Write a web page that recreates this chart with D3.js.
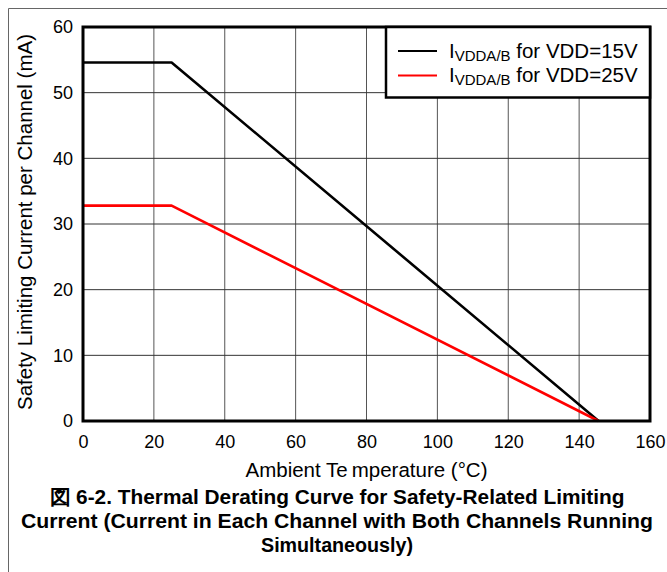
<!DOCTYPE html>
<html>
<head>
<meta charset="utf-8">
<script src="https://cdn.jsdelivr.net/npm/d3@7"></script>
<style>
  body { margin: 0; background: #fff; }
  text { font-family: Arial, "Liberation Sans", sans-serif; }
</style>
</head>
<body>
<script>
  //==DATA==//
  const temps = [0, 25, 145.5];
  const vdd15 = [54.6, 54.6, 0];
  const vdd25 = [32.8, 32.8, 0];
  const xTicks = [0, 20, 40, 60, 80, 100, 120, 140, 160];
  const yTicks = [0, 10, 20, 30, 40, 50, 60];
  const seriesNames = ["15V", "25V"];
  const seriesColours = ["#000000", "#ff0000"];
  const captionLines = [
    "図 6-2. Thermal Derating Curve for Safety-Related Limiting",
    "Current (Current in Each Channel with Both Channels Running",
    "Simultaneously)"
  ];

  //=SVG AREA=//
  const width = 667;
  const height = 572;
  const plot = {left: 83, right: 650, top: 27, bottom: 421};

  const svg = d3.select("body")
  .append("svg")
  .attr("width", width)
  .attr("height", height);

  //outer frame (left and top only)
  svg.append("path")
  .attr("d", "M8.5," + height + "V8.5H" + width)
  .attr("fill", "none")
  .attr("stroke", "#666")
  .attr("stroke-width", 1);

  const x = d3.scaleLinear().domain([0, 160]).range([plot.left, plot.right]);
  const y = d3.scaleLinear().domain([0, 60]).range([plot.bottom, plot.top]);

  //grid
  svg.append("g")
  .selectAll("line")
  .data(xTicks)
  .enter()
  .append("line")
  .attr("x1", d => x(d)).attr("x2", d => x(d))
  .attr("y1", plot.top).attr("y2", plot.bottom)
  .attr("stroke", "#555")
  .attr("stroke-width", 1);

  svg.append("g")
  .selectAll("line")
  .data(yTicks)
  .enter()
  .append("line")
  .attr("x1", plot.left).attr("x2", plot.right)
  .attr("y1", d => y(d)).attr("y2", d => y(d))
  .attr("stroke", "#333")
  .attr("stroke-width", 1);

  //axes, labels only
  const xAxis = d3.axisBottom(x).tickValues(xTicks).tickSize(0).tickPadding(14);
  const gx = svg.append("g")
  .attr("transform", "translate(0," + plot.bottom + ")")
  .call(xAxis);
  gx.select(".domain").remove();
  gx.selectAll("text").attr("font-size", 18).attr("fill", "#000")
  .style("font-family", "Arial, 'Liberation Sans', sans-serif");

  const yAxis = d3.axisLeft(y).tickValues(yTicks).tickSize(0).tickPadding(10);
  const gy = svg.append("g")
  .attr("transform", "translate(" + plot.left + ",0)")
  .call(yAxis);
  gy.select(".domain").remove();
  gy.selectAll("text").attr("font-size", 18).attr("fill", "#000")
  .style("font-family", "Arial, 'Liberation Sans', sans-serif");

  //curves
  const line = d3.line()
  .x(d => x(d[0]))
  .y(d => y(d[1]));

  [vdd15, vdd25].forEach(function(vals, i) {
    svg.append("path")
    .datum(temps.map((t, j) => [t, vals[j]]))
    .attr("fill", "none")
    .attr("stroke", seriesColours[i])
    .attr("stroke-width", 2.6)
    .attr("stroke-linejoin", "round")
    .attr("d", line);
  });

  //plot border
  svg.append("rect")
  .attr("x", plot.left).attr("y", plot.top)
  .attr("width", plot.right - plot.left)
  .attr("height", plot.bottom - plot.top)
  .attr("fill", "none")
  .attr("stroke", "#000")
  .attr("stroke-width", 3);

  //legend
  const legend = svg.append("g");
  legend.append("rect")
  .attr("x", 386).attr("y", plot.top)
  .attr("width", plot.right - 386).attr("height", 70.5)
  .attr("fill", "#fff")
  .attr("stroke", "#000")
  .attr("stroke-width", 2.5);

  seriesNames.forEach(function(name, i) {
    const ly = 51 + i * 24.5;
    legend.append("line")
    .attr("x1", 398).attr("x2", 437)
    .attr("y1", ly).attr("y2", ly)
    .attr("stroke", seriesColours[i])
    .attr("stroke-width", 2.2);
    const t = legend.append("text")
    .attr("x", 449).attr("y", ly + 6.5)
    .attr("font-size", 20.5)
    .attr("fill", "#000");
    t.append("tspan").text("I");
    t.append("tspan").attr("font-size", 15).attr("dy", 3).text("VDDA/B");
    t.append("tspan").attr("dy", -3).text(" for VDD=" + name);
  });

  //axis titles
  const xt = svg.append("text")
  .attr("x", 366.5)
  .attr("y", 477)
  .attr("text-anchor", "middle")
  .attr("font-size", 20.5)
  .attr("fill", "#000");
  xt.append("tspan").text("Ambient Te");
  xt.append("tspan").attr("dx", 4).text("mperature (°C)");

  svg.append("text")
  .attr("transform", "translate(32,222) rotate(-90)")
  .attr("text-anchor", "middle")
  .attr("font-size", 20.5)
  .attr("fill", "#000")
  .text("Safety Limiting Current per Channel (mA)");

  //caption, squeezed to look like a narrow bold face
  const captionWidths = [575, 632, 152];
  svg.append("g")
  .selectAll("text")
  .data(captionLines)
  .enter()
  .append("text")
  .attr("x", (d, i) => 337 - captionWidths[i] / 2)
  .attr("y", (d, i) => 504 + i * 24)
  .attr("font-size", 20)
  .attr("font-weight", "bold")
  .attr("fill", "#000")
  .attr("textLength", (d, i) => captionWidths[i])
  .attr("lengthAdjust", "spacingAndGlyphs")
  .text(d => d);
</script>
</body>
</html>
